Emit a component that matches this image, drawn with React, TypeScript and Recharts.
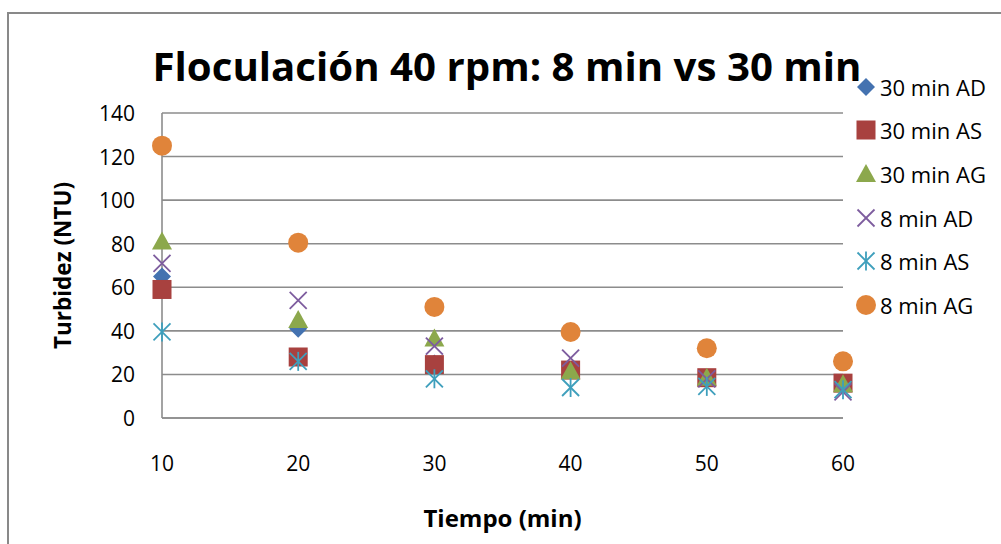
import React from "react";
import {
  ScatterChart,
  Scatter,
  XAxis,
  YAxis,
  CartesianGrid,
  Legend,
  Label,
} from "recharts";

const FONT = "'Open Sans', sans-serif";

// minutes
const tiempos = [10, 20, 30, 40, 50, 60];
const yTicks = [0, 20, 40, 60, 80, 100, 120, 140];

// turbidity (NTU)
const ad30 = [65, 41, 25, 22, 18.5, 16];
const as30 = [59, 28, 24.5, 22, 18.5, 16];
const ag30 = [81, 45, 36.5, 21.5, 18.5, 15.5];
const ad8 = [71, 54, 33, 27.5, 18, 12];
const as8 = [39.5, 26, 18, 14, 14.5, 13];
const ag8 = [125, 80.5, 51, 39.5, 32, 26];

type Kind = "diamond" | "square" | "triangle" | "x" | "star" | "circle";

const series: { name: string; values: number[]; kind: Kind; color: string }[] = [
  { name: "30 min AD", values: ad30, kind: "diamond", color: "#4472B0" },
  { name: "30 min AS", values: as30, kind: "square", color: "#A8413F" },
  { name: "30 min AG", values: ag30, kind: "triangle", color: "#8CA84C" },
  { name: "8 min AD", values: ad8, kind: "x", color: "#7D5C9E" },
  { name: "8 min AS", values: as8, kind: "star", color: "#3E9FBC" },
  { name: "8 min AG", values: ag8, kind: "circle", color: "#E0843A" },
];

function Marker({ kind, cx, cy, color }: { kind: Kind; cx: number; cy: number; color: string }) {
  if (cx == null || cy == null) return null;
  switch (kind) {
    case "diamond":
      return (
        <polygon
          points={`${cx},${cy - 9} ${cx + 9},${cy} ${cx},${cy + 9} ${cx - 9},${cy}`}
          fill={color}
        />
      );
    case "square":
      return <rect x={cx - 9.5} y={cy - 9.5} width={19} height={19} fill={color} />;
    case "triangle":
      return (
        <polygon
          points={`${cx},${cy - 10} ${cx + 10},${cy + 8} ${cx - 10},${cy + 8}`}
          fill={color}
        />
      );
    case "x":
      return (
        <g stroke={color} strokeWidth={1.8}>
          <line x1={cx - 8.5} y1={cy - 8.5} x2={cx + 8.5} y2={cy + 8.5} />
          <line x1={cx - 8.5} y1={cy + 8.5} x2={cx + 8.5} y2={cy - 8.5} />
        </g>
      );
    case "star":
      return (
        <g stroke={color} strokeWidth={1.8}>
          <line x1={cx - 8.5} y1={cy - 8.5} x2={cx + 8.5} y2={cy + 8.5} />
          <line x1={cx - 8.5} y1={cy + 8.5} x2={cx + 8.5} y2={cy - 8.5} />
          <line x1={cx} y1={cy - 9.5} x2={cx} y2={cy + 9.5} />
        </g>
      );
    default:
      return <circle cx={cx} cy={cy} r={10} fill={color} />;
  }
}

function YTick({ x, y, payload }: any) {
  return (
    <text x={x} y={y} textAnchor="end" dominantBaseline="central" fontFamily={FONT} fontSize={21} fill="#000">
      {payload.value}
    </text>
  );
}

function XTick({ x, y, payload }: any) {
  return (
    <text x={x} y={y} textAnchor="middle" dominantBaseline="central" fontFamily={FONT} fontSize={21} fill="#000">
      {payload.value}
    </text>
  );
}

function LegendBox() {
  return (
    <div style={{ fontFamily: FONT, fontSize: 22, color: "#000" }}>
      {series.map((s) => (
        <div key={s.name} style={{ display: "flex", alignItems: "center", height: 43.6, whiteSpace: "nowrap" }}>
          <svg width={22} height={22} style={{ marginRight: 3 }}>
            <Marker kind={s.kind} cx={11} cy={11} color={s.color} />
          </svg>
          <span>{s.name}</span>
        </div>
      ))}
    </div>
  );
}

export default function App() {
  return (
    <div
      style={{
        position: "fixed",
        left: 0,
        top: 0,
        width: 1001,
        height: 544,
        overflow: "hidden",
        background: "#fff",
      }}
    >
      <div
        style={{
          position: "absolute",
          left: 7,
          top: 12,
          width: 1100,
          height: 700,
          border: "2px solid #898989",
          boxSizing: "border-box",
        }}
      />
      <svg width={1001} height={120} style={{ position: "absolute", left: 0, top: 0 }}>
        <text
          x={507}
          y={81}
          textAnchor="middle"
          fontFamily={FONT}
          fontWeight={700}
          fontSize={40}
          textLength={709}
          lengthAdjust="spacingAndGlyphs"
          fill="#000"
        >
          Floculación 40 rpm: 8 min vs 30 min
        </text>
      </svg>
      <div style={{ position: "absolute", left: 0, top: 0 }}>
        <ScatterChart width={1001} height={544} margin={{ top: 113, right: 158, bottom: 86, left: 102 }}>
          <CartesianGrid vertical={false} stroke="#8c8c8c" strokeWidth={1.6} />
          <XAxis
            type="number"
            dataKey="x"
            domain={[10, 60]}
            ticks={tiempos}
            height={40}
            tickSize={0}
            tickMargin={45}
            tick={<XTick />}
            axisLine={{ stroke: "#8c8c8c", strokeWidth: 1.6 }}
            tickLine={false}
          >
            <Label
              content={({ viewBox }: any) => (
                <text
                  x={viewBox.x + viewBox.width / 2}
                  y={viewBox.y + 99}
                  textAnchor="middle"
                  dominantBaseline="central"
                  fontFamily={FONT}
                  fontWeight={700}
                  fontSize={24}
                  fill="#000"
                >
                  Tiempo (min)
                </text>
              )}
            />
          </XAxis>
          <YAxis
            type="number"
            dataKey="y"
            domain={[0, 140]}
            ticks={yTicks}
            width={60}
            tickSize={0}
            tickMargin={27}
            tick={<YTick />}
            axisLine={{ stroke: "#8c8c8c", strokeWidth: 1.6 }}
            tickLine={false}
          >
            <Label
              content={({ viewBox }: any) => {
                const cx = viewBox.x - 40;
                const cy = viewBox.y + viewBox.height / 2;
                return (
                  <text
                    x={cx}
                    y={cy}
                    transform={`rotate(-90 ${cx} ${cy})`}
                    textAnchor="middle"
                    dominantBaseline="central"
                    fontFamily={FONT}
                    fontWeight={700}
                    fontSize={22.5}
                    fill="#000"
                  >
                    Turbidez (NTU)
                  </text>
                );
              }}
            />
          </YAxis>
          {series.map((s) => (
            <Scatter
              key={s.name}
              name={s.name}
              data={tiempos.map((t, i) => ({ x: t, y: s.values[i] }))}
              fill={s.color}
              isAnimationActive={false}
              shape={(p: any) => <Marker kind={s.kind} cx={p.cx} cy={p.cy} color={s.color} />}
            />
          ))}
          <Legend
            layout="vertical"
            align="center"
            verticalAlign="middle"
            content={() => <LegendBox />}
            wrapperStyle={{ left: 855, top: 65, width: 150 }}
          />
        </ScatterChart>
      </div>
    </div>
  );
}
